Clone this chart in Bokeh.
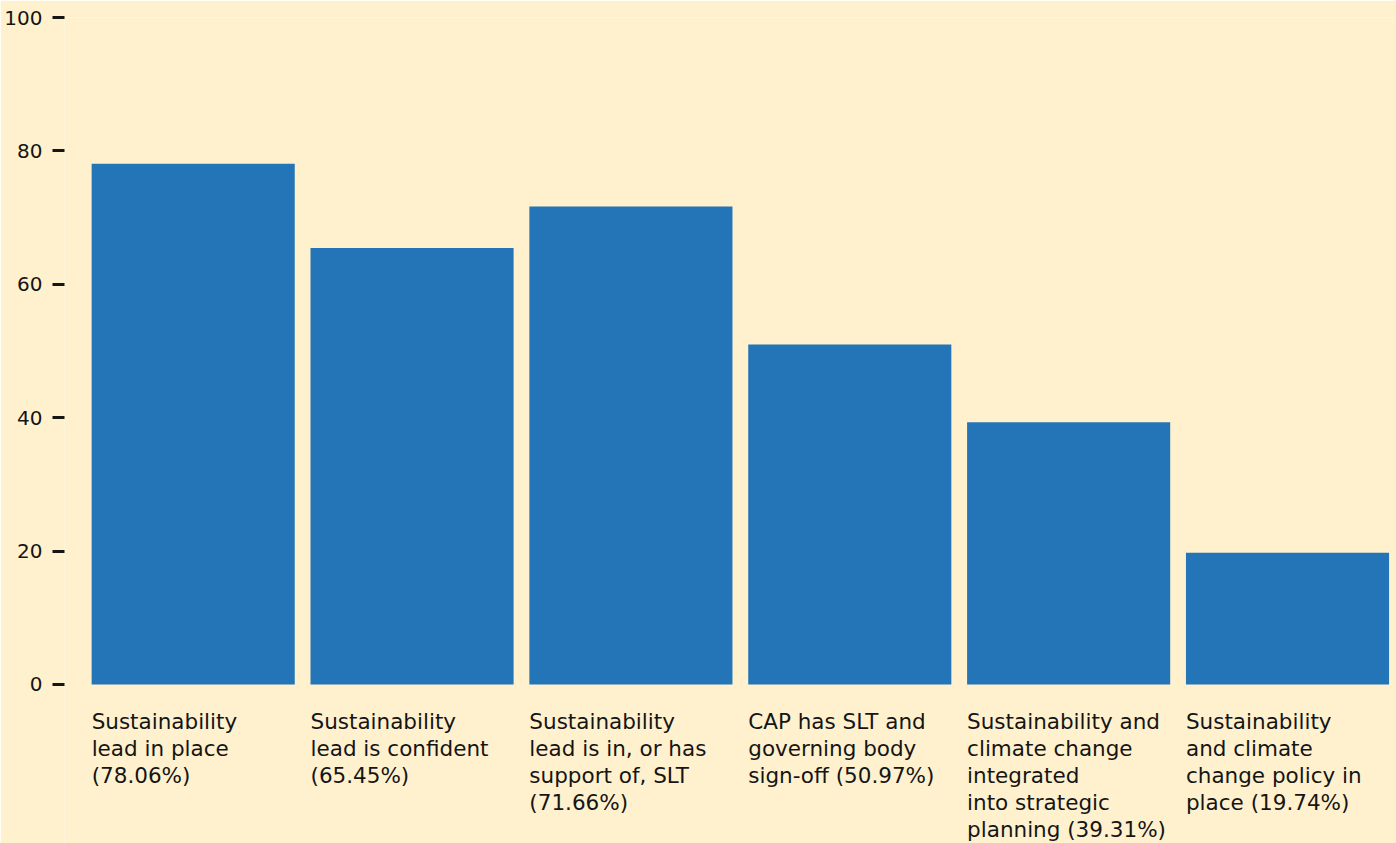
from bokeh.plotting import figure
from bokeh.models import ColumnDataSource, FixedTicker, Range1d
from bokeh.core.properties import value
from bokeh.embed import file_html
from bokeh.resources import INLINE

# ---- data ----
categories = [
    "Sustainability\nlead in place\n(78.06%)",
    "Sustainability\nlead is confident\n(65.45%)",
    "Sustainability\nlead is in, or has\nsupport of, SLT\n(71.66%)",
    "CAP has SLT and\ngoverning body\nsign-off (50.97%)",
    "Sustainability and\nclimate change\nintegrated\ninto strategic\nplanning (39.31%)",
    "Sustainability\nand climate\nchange policy in\nplace (19.74%)",
]
values = [78.06, 65.45, 71.66, 50.97, 39.31, 19.74]
y_ticks = [0, 20, 40, 60, 80, 100]

BG = "#FFF1CD"
BAR = "#2475B7"
INK = "#151515"
FONT = "DejaVu Sans"
BAR_W = 0.928

xs = list(range(len(values)))
src = ColumnDataSource(dict(x=xs, top=values,
                            lx=[x - BAR_W / 2 for x in xs],
                            ly=[0 for _ in xs],
                            label=categories))

p = figure(width=1396, height=843, output_backend="svg", toolbar_location=None,
           x_axis_location=None,
           x_range=Range1d(-0.588, 5.498), y_range=Range1d(-23.84, 100))
p.min_border_left = 64
p.min_border_right = 0
p.min_border_top = 17
p.min_border_bottom = 0
p.background_fill_color = BG
p.border_fill_color = BG
p.outline_line_color = None
p.grid.visible = False

p.vbar(x="x", top="top", bottom=0, width=BAR_W, source=src,
       fill_color=BAR, line_color=None)

p.text(x="lx", y="ly", text="label", source=src, x_offset=0, y_offset=24.5,
       text_font=value(FONT), text_font_size="21.5px", text_color=INK,
       text_baseline="top", text_align="left", text_line_height=1.08)

ax = p.yaxis[0]
ax.ticker = FixedTicker(ticks=y_ticks)
ax.axis_line_color = None
ax.minor_tick_line_color = None
ax.major_tick_in = 0
ax.major_tick_out = 12
ax.major_tick_line_width = 3
ax.major_tick_line_color = INK
ax.major_label_standoff = 10
ax.major_label_text_font = FONT
ax.major_label_text_font_size = "20px"
ax.major_label_text_color = INK

open("out.html", "w").write(file_html(p, INLINE))
